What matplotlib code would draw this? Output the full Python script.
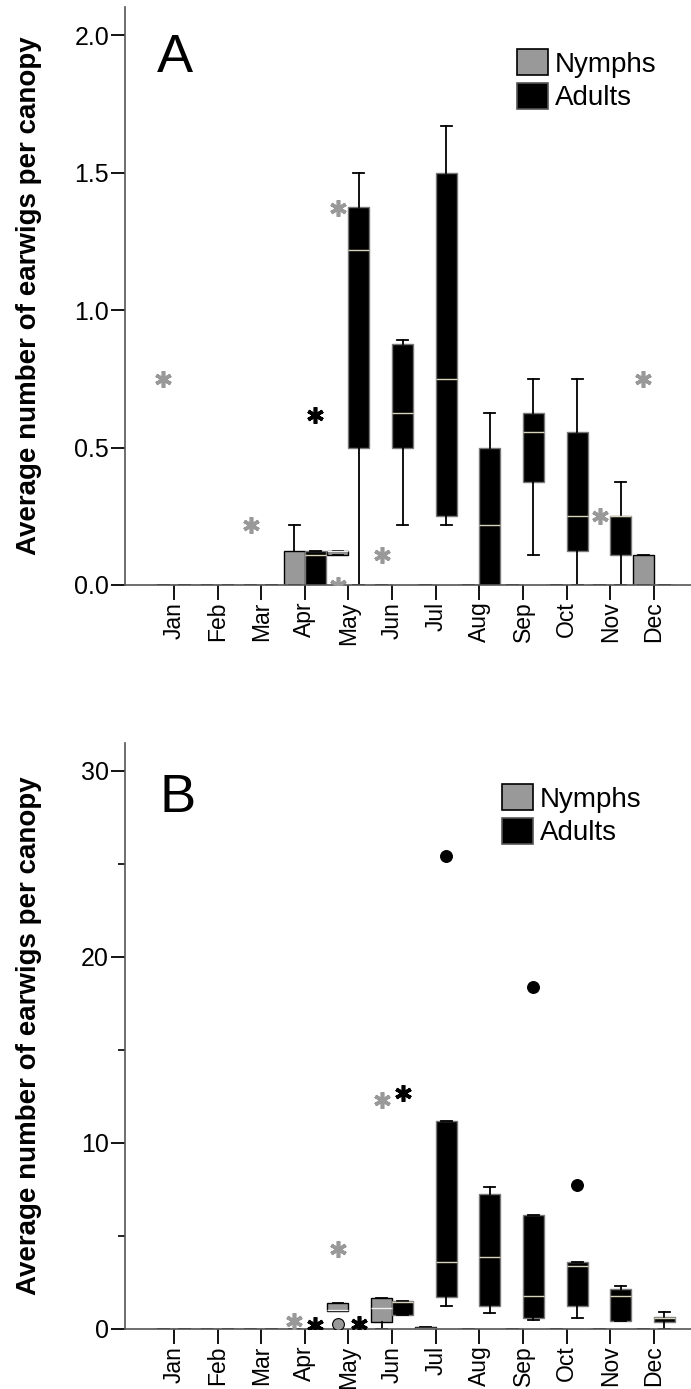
import matplotlib
matplotlib.use("Agg")
import matplotlib.pyplot as plt
from matplotlib.patches import Patch

plt.rcParams['font.family'] = ['Liberation Sans', 'DejaVu Sans']

months = ['Jan', 'Feb', 'Mar', 'Apr', 'May', 'Jun', 'Jul', 'Aug', 'Sep', 'Oct', 'Nov', 'Dec']

# box stats per month: q1, median, q3, lower whisker, upper whisker
# Panel A
a_nym_q1  = [0, 0, 0, 0,     0.11,  0, 0, 0, 0, 0, 0, 0]
a_nym_med = [0, 0, 0, 0,     0.125, 0, 0, 0, 0, 0, 0, 0]
a_nym_q3  = [0, 0, 0, 0.125, 0.125, 0, 0, 0, 0, 0, 0, 0.11]
a_nym_lo  = [0, 0, 0, 0,     0.11,  0, 0, 0, 0, 0, 0, 0]
a_nym_hi  = [0, 0, 0, 0.22,  0.125, 0, 0, 0, 0, 0, 0, 0.11]
a_nym_stars = {0: [0.75], 2: [0.22], 4: [1.37, 0.0], 5: [0.11], 10: [0.25], 11: [0.75]}
a_nym_dots = {}

a_adu_q1  = [0, 0, 0, 0,     0.5,   0.5,   0.25, 0,     0.375, 0.125, 0.11,  0]
a_adu_med = [0, 0, 0, 0.11,  1.22,  0.625, 0.75, 0.22,  0.555, 0.25,  0.25,  0]
a_adu_q3  = [0, 0, 0, 0.125, 1.375, 0.875, 1.5,  0.5,   0.625, 0.555, 0.25,  0]
a_adu_lo  = [0, 0, 0, 0,     0,     0.22,  0.22, 0,     0.11,  0,     0,     0]
a_adu_hi  = [0, 0, 0, 0.125, 1.5,   0.89,  1.67, 0.625, 0.75,  0.75,  0.375, 0]
a_adu_stars = {3: [0.62]}
a_adu_dots = {}

# Panel B
b_nym_q1  = [0, 0, 0, 0, 0.97, 0.37, 0.06, 0, 0, 0, 0, 0]
b_nym_med = [0, 0, 0, 0, 1.0,  1.12, 0.06, 0, 0, 0, 0, 0]
b_nym_q3  = [0, 0, 0, 0, 1.4,  1.65, 0.12, 0, 0, 0, 0, 0]
b_nym_lo  = [0, 0, 0, 0, 0.97, 0,    0.06, 0, 0, 0, 0, 0]
b_nym_hi  = [0, 0, 0, 0, 1.4,  1.65, 0.12, 0, 0, 0, 0, 0]
b_nym_stars = {3: [0.43], 4: [4.3], 5: [12.3]}
b_nym_dots = {4: [0.27]}

b_adu_q1  = [0, 0, 0, 0, 0, 0.75, 1.72, 1.24, 0.59, 1.24, 0.43, 0.37]
b_adu_med = [0, 0, 0, 0, 0, 1.45, 3.6,  3.87, 1.77, 3.39, 1.77, 0.59]
b_adu_q3  = [0, 0, 0, 0, 0, 1.5,  11.2, 7.26, 6.13, 3.6,  2.15, 0.65]
b_adu_lo  = [0, 0, 0, 0, 0, 0.75, 1.24, 0.86, 0.48, 0.59, 0.43, 0]
b_adu_hi  = [0, 0, 0, 0, 0, 1.5,  11.2, 7.63, 6.13, 3.6,  2.31, 0.91]
b_adu_stars = {3: [0.2], 4: [0.27], 5: [12.7]}
b_adu_dots = {6: [25.4], 8: [18.4], 9: [7.75]}

NYM = '#999999'
ADU = '#000000'
W = 0.48
STAR = (6, 2, 0)


def stats(q1, med, q3, lo, hi):
    return [dict(q1=a, med=b, q3=c, whislo=d, whishi=e, fliers=[])
            for a, b, c, d, e in zip(q1, med, q3, lo, hi)]


def draw_group(ax, st, offset, face, edge, medc, fcol, stars, dots):
    pos = [i + offset for i in range(len(months))]
    ax.bxp(st, positions=pos, widths=W, patch_artist=True, showfliers=False,
           capwidths=0.25, manage_ticks=False,
           boxprops=dict(facecolor=face, edgecolor=edge, linewidth=1.0),
           medianprops=dict(color=medc, linewidth=1.0),
           whiskerprops=dict(color='black', linewidth=1.3),
           capprops=dict(color='black', linewidth=1.3))
    for m, vals in stars.items():
        ax.plot([m + offset] * len(vals), vals, linestyle='none', marker=STAR,
                markersize=12, markeredgewidth=2.6, color=fcol, zorder=5)
    for m, vals in dots.items():
        ax.plot([m + offset] * len(vals), vals, linestyle='none', marker='o',
                markersize=8.5, markerfacecolor=fcol, markeredgecolor='black',
                markeredgewidth=0.8, zorder=5)


def style(ax, ylim, major, minor=None):
    ax.set_xlim(-1.12, 11.85)
    ax.set_ylim(*ylim)
    ax.set_xticks(range(len(months)))
    ax.set_xticklabels(months, rotation=90, fontsize=16.5)
    ax.set_yticks(major)
    if minor is not None:
        ax.set_yticks(minor, minor=True)
        ax.tick_params(axis='y', which='minor', length=5, width=1.2, direction='out')
    ax.tick_params(axis='y', which='major', length=10, width=1.3, labelsize=18,
                   direction='out', pad=1.5)
    ax.tick_params(axis='x', which='major', length=11, width=1.3,
                   direction='out', pad=1.0)
    for s in ['top', 'right']:
        ax.spines[s].set_visible(False)
    for s in ['left', 'bottom']:
        ax.spines[s].set_color('#555555')
        ax.spines[s].set_linewidth(1.2)
    ax.set_ylabel('Average number of earwigs per canopy', fontsize=20, fontweight='bold')
    ax.yaxis.set_label_coords(-0.147, 0.5)


fig = plt.figure(figsize=(6.91, 13.89), dpi=100)
axA = fig.add_axes([125 / 691, 1 - 585 / 1389, 566 / 691, 578 / 1389])
axB = fig.add_axes([125 / 691, 1 - 1329 / 1389, 566 / 691, 586 / 1389])

draw_group(axA, stats(a_nym_q1, a_nym_med, a_nym_q3, a_nym_lo, a_nym_hi), -W / 2,
           NYM, 'black', '#eeeeee', NYM, a_nym_stars, a_nym_dots)
draw_group(axA, stats(a_adu_q1, a_adu_med, a_adu_q3, a_adu_lo, a_adu_hi), W / 2,
           ADU, '#777777', '#d8d4bc', ADU, a_adu_stars, a_adu_dots)
style(axA, (0, 2.102), [0.0, 0.5, 1.0, 1.5, 2.0])
axA.set_yticklabels(['0.0', '0.5', '1.0', '1.5', '2.0'])

draw_group(axB, stats(b_nym_q1, b_nym_med, b_nym_q3, b_nym_lo, b_nym_hi), -W / 2,
           NYM, 'black', '#eeeeee', NYM, b_nym_stars, b_nym_dots)
draw_group(axB, stats(b_adu_q1, b_adu_med, b_adu_q3, b_adu_lo, b_adu_hi), W / 2,
           ADU, '#777777', '#d8d4bc', ADU, b_adu_stars, b_adu_dots)
style(axB, (0, 31.5), [0, 10, 20, 30], [5, 15, 25])

fig.text(157 / 691, 1 - 72 / 1389, 'A', fontsize=39, va='baseline', ha='left')
fig.text(159 / 691, 1 - 812 / 1389, 'B', fontsize=39, va='baseline', ha='left')

handles = [Patch(facecolor=NYM, edgecolor='black', linewidth=1.2),
           Patch(facecolor=ADU, edgecolor='#555555', linewidth=1.2)]
for ax, (lx, ly) in [(axA, (517, 49)), (axB, (502, 784))]:
    fig.legend(handles, ['Nymphs', 'Adults'], loc='upper left',
               bbox_to_anchor=(lx / 691, 1 - ly / 1389), frameon=False,
               fontsize=20, handlelength=1.1, handleheight=1.08,
               labelspacing=0.18, handletextpad=0.25, borderpad=0, borderaxespad=0)

fig.savefig('out.png', dpi=100)
